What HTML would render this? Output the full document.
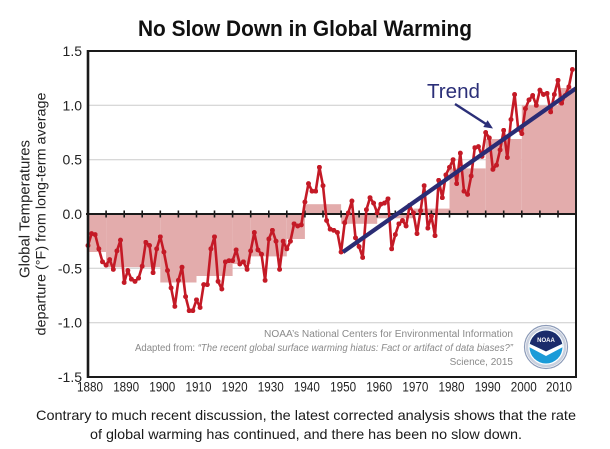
<!DOCTYPE html>
<html>
<head>
<meta charset="utf-8">
<style>
  html,body{margin:0;padding:0;background:#fff;}
  svg{display:block;}
  text{font-family:"Liberation Sans", Arial, sans-serif;}
</style>
</head>
<body>
<svg width="610" height="449" viewBox="0 0 610 449" xmlns="http://www.w3.org/2000/svg">
  <defs>
    <marker id="dot" viewBox="0 0 10 10" refX="5" refY="5" markerWidth="5" markerHeight="5" markerUnits="userSpaceOnUse">
      <circle cx="5" cy="5" r="5" fill="#c41a26"/>
    </marker>
    <clipPath id="logoclip"><circle cx="546" cy="347" r="16.5"/></clipPath>
  </defs>

  <rect x="0" y="0" width="610" height="449" fill="#fff"/>

  <!-- Title -->
  <text x="305" y="36" text-anchor="middle" font-size="22" font-weight="bold" fill="#111" textLength="334" lengthAdjust="spacingAndGlyphs">No Slow Down in Global Warming</text>

  <!-- gridlines -->
  <g stroke="#cbcbcb" stroke-width="1">
    <line x1="88" y1="105.3" x2="576" y2="105.3"/>
    <line x1="88" y1="159.7" x2="576" y2="159.7"/>
    <line x1="88" y1="268.3" x2="576" y2="268.3"/>
    <line x1="88" y1="322.7" x2="576" y2="322.7"/>
  </g>

  <!-- decadal bars -->
  <g fill="#e3acac">
    <rect x="88" y="214" width="18.1" height="38"/>
    <rect x="106.1" y="214" width="54.2" height="53.2"/>
    <rect x="160.3" y="214" width="36.2" height="68.5"/>
    <rect x="196.5" y="214" width="36.1" height="62"/>
    <rect x="232.6" y="214" width="18.1" height="50"/>
    <rect x="250.7" y="214" width="36.1" height="42.4"/>
    <rect x="286.8" y="214" width="18.1" height="25"/>
    <rect x="304.9" y="204.2" width="36.2" height="9.8"/>
    <rect x="341.1" y="214" width="36.1" height="9.8"/>
    <rect x="377.2" y="214" width="36.2" height="4.3"/>
    <rect x="413.4" y="208.6" width="36.1" height="5.4"/>
    <rect x="449.5" y="168.4" width="36.2" height="45.6"/>
    <rect x="485.7" y="139" width="36.1" height="75"/>
    <rect x="521.8" y="105.3" width="36.2" height="108.7"/>
    <rect x="558" y="88" width="18" height="126"/>
  </g>

  <!-- zero line + ticks -->
  <line x1="86" y1="214" x2="576" y2="214" stroke="#1a1a1a" stroke-width="2"/>
  <path stroke="#1a1a1a" stroke-width="1.6" fill="none" d="M106.1 210.5V217.5M124.2 210.5V217.5M142.2 210.5V217.5M160.3 210.5V217.5M178.4 210.5V217.5M196.5 210.5V217.5M214.5 210.5V217.5M232.6 210.5V217.5M250.7 210.5V217.5M268.8 210.5V217.5M286.8 210.5V217.5M304.9 210.5V217.5M323 210.5V217.5M341.1 210.5V217.5M359.1 210.5V217.5M377.2 210.5V217.5M395.3 210.5V217.5M413.4 210.5V217.5M431.4 210.5V217.5M449.5 210.5V217.5M467.6 210.5V217.5M485.7 210.5V217.5M503.7 210.5V217.5M521.8 210.5V217.5M539.9 210.5V217.5M558 210.5V217.5"/>

  <!-- data series -->
  <polyline fill="none" stroke="#c41a26" stroke-width="2.6" stroke-linejoin="round"
    marker-start="url(#dot)" marker-mid="url(#dot)" marker-end="url(#dot)"
    points="88.0,245.5 91.6,233.6 95.2,234.6 98.8,248.8 102.5,261.8 106.1,265.1 109.7,259.6 113.3,269.4 116.9,250.9 120.5,240.1 124.2,282.5 127.8,270.5 131.4,279.2 135.0,281.4 138.6,278.1 142.2,266.2 145.8,242.3 149.5,245.5 153.1,272.7 156.7,248.8 160.3,236.8 163.9,252.0 167.5,270.5 171.1,287.9 174.8,306.4 178.4,280.3 182.0,267.2 185.6,296.6 189.2,310.7 192.8,310.7 196.5,299.8 200.1,307.5 203.7,284.6 207.3,284.6 210.9,248.8 214.5,236.8 218.1,281.4 221.8,289.0 225.4,261.8 229.0,260.7 232.6,260.7 236.2,249.9 239.8,264.0 243.4,261.8 247.1,269.4 250.7,250.9 254.3,232.5 257.9,249.9 261.5,254.2 265.1,280.3 268.8,239.0 272.4,230.3 276.0,241.2 279.6,269.4 283.2,241.2 286.8,248.8 290.4,241.2 294.1,223.8 297.7,226.0 301.3,224.9 304.9,202.0 308.5,183.6 312.1,191.2 315.7,191.2 319.4,167.3 323.0,185.7 326.6,220.5 330.2,229.2 333.8,230.3 337.4,232.5 341.1,252.0 344.7,222.7 348.3,212.9 351.9,201.0 355.5,237.9 359.1,246.6 362.7,257.5 366.4,209.7 370.0,197.7 373.6,203.1 377.2,212.9 380.8,204.2 384.4,203.1 388.0,198.8 391.7,248.8 395.3,234.6 398.9,223.8 402.5,220.5 406.1,226.0 409.7,205.3 413.4,212.9 417.0,233.6 420.6,210.7 424.2,185.7 427.8,228.1 431.4,216.2 435.0,235.7 438.7,180.3 442.3,197.7 445.9,174.9 449.5,167.3 453.1,159.7 456.7,183.6 460.3,153.1 464.0,191.2 467.6,194.4 471.2,176.0 474.8,147.7 478.4,146.6 482.0,156.4 485.7,132.5 489.3,137.9 492.9,169.4 496.5,165.1 500.1,149.9 503.7,130.3 507.3,157.5 511.0,119.5 514.6,94.5 518.2,129.2 521.8,133.6 525.4,108.6 529.0,99.9 532.7,95.5 536.3,105.3 539.9,90.1 543.5,94.5 547.1,93.4 550.7,111.9 554.3,94.5 558.0,80.3 561.6,103.2 565.2,95.5 568.8,86.9 572.4,69.5"/>

  <!-- trend line -->
  <line x1="343" y1="252" x2="576" y2="88.3" stroke="#2a2c74" stroke-width="4.2" stroke-linecap="butt"/>

  <!-- Trend label + arrow -->
  <text x="427" y="98" font-size="20" fill="#2b2f78" textLength="53" lengthAdjust="spacingAndGlyphs">Trend</text>
  <line x1="455" y1="104" x2="487" y2="124.6" stroke="#2b2f78" stroke-width="2.4"/>
  <polygon points="493,128.5 483.3,127.0 487.6,120.2" fill="#2b2f78"/>

  <!-- frame -->
  <rect x="88" y="51" width="488" height="326" fill="none" stroke="#1a1a1a" stroke-width="2"/>
  <line x1="88" y1="50" x2="88" y2="378" stroke="#1a1a1a" stroke-width="2.6"/>

  <!-- y tick labels -->
  <g font-size="14" fill="#222" text-anchor="end">
    <text x="82" y="56">1.5</text>
    <text x="82" y="110.3">1.0</text>
    <text x="82" y="164.7">0.5</text>
    <text x="82" y="219">0.0</text>
    <text x="82" y="273.3">-0.5</text>
    <text x="82" y="327.7">-1.0</text>
    <text x="82" y="382">-1.5</text>
  </g>

  <!-- x tick labels -->
  <g font-size="13.5" fill="#222" text-anchor="middle">
    <text x="90" y="391.5" textLength="26" lengthAdjust="spacingAndGlyphs">1880</text>
    <text x="126.2" y="391.5" textLength="26" lengthAdjust="spacingAndGlyphs">1890</text>
    <text x="162.3" y="391.5" textLength="26" lengthAdjust="spacingAndGlyphs">1900</text>
    <text x="198.5" y="391.5" textLength="26" lengthAdjust="spacingAndGlyphs">1910</text>
    <text x="234.6" y="391.5" textLength="26" lengthAdjust="spacingAndGlyphs">1920</text>
    <text x="270.8" y="391.5" textLength="26" lengthAdjust="spacingAndGlyphs">1930</text>
    <text x="306.9" y="391.5" textLength="26" lengthAdjust="spacingAndGlyphs">1940</text>
    <text x="343.1" y="391.5" textLength="26" lengthAdjust="spacingAndGlyphs">1950</text>
    <text x="379.2" y="391.5" textLength="26" lengthAdjust="spacingAndGlyphs">1960</text>
    <text x="415.4" y="391.5" textLength="26" lengthAdjust="spacingAndGlyphs">1970</text>
    <text x="451.5" y="391.5" textLength="26" lengthAdjust="spacingAndGlyphs">1980</text>
    <text x="487.7" y="391.5" textLength="26" lengthAdjust="spacingAndGlyphs">1990</text>
    <text x="523.8" y="391.5" textLength="26" lengthAdjust="spacingAndGlyphs">2000</text>
    <text x="559" y="391.5" textLength="26" lengthAdjust="spacingAndGlyphs">2010</text>
  </g>

  <!-- y axis title -->
  <text transform="translate(29.5,209) rotate(-90)" text-anchor="middle" font-size="15" fill="#222" textLength="138" lengthAdjust="spacingAndGlyphs">Global Temperatures</text>
  <text transform="translate(45.5,214) rotate(-90)" text-anchor="middle" font-size="13.8" fill="#222" textLength="243" lengthAdjust="spacingAndGlyphs">departure (°F) from long-term average</text>

  <!-- source notes -->
  <g font-size="10" fill="#8a8a8a" text-anchor="end">
    <text x="513" y="337" textLength="249" lengthAdjust="spacingAndGlyphs">NOAA’s National Centers for Environmental Information</text>
    <text x="513" y="351" textLength="378" lengthAdjust="spacingAndGlyphs">Adapted from: <tspan font-style="italic">“The recent global surface warming hiatus: Fact or artifact of data biases?”</tspan></text>
    <text x="513" y="365">Science, 2015</text>
  </g>

  <!-- NOAA logo -->
  <circle cx="546" cy="347" r="21.5" fill="#fff" stroke="#8c9bb8" stroke-width="1.2"/>
  <circle cx="546" cy="347" r="19" fill="none" stroke="#c9d0de" stroke-width="2.5"/>
  <g clip-path="url(#logoclip)">
    <rect x="528" y="329" width="36" height="36" fill="#1b9bd8"/>
    <path d="M528 329 L564 329 L564 343 L546 351.5 L528 343 Z" fill="#1a2c6b"/>
    <path d="M528 343 L546 351.5 L564 343 L564 346.5 L546 356 L528 346.5 Z" fill="#fff"/>
  </g>
  <text x="546" y="342" text-anchor="middle" font-size="6" font-weight="bold" fill="#fff">NOAA</text>

  <!-- caption -->
  <g font-size="13.6" fill="#1a1a1a" text-anchor="middle">
    <text x="306" y="420" textLength="540" lengthAdjust="spacingAndGlyphs">Contrary to much recent discussion, the latest corrected analysis shows that the rate</text>
    <text x="306" y="439" textLength="432" lengthAdjust="spacingAndGlyphs">of global warming has continued, and there has been no slow down.</text>
  </g>
</svg>
</body>
</html>
